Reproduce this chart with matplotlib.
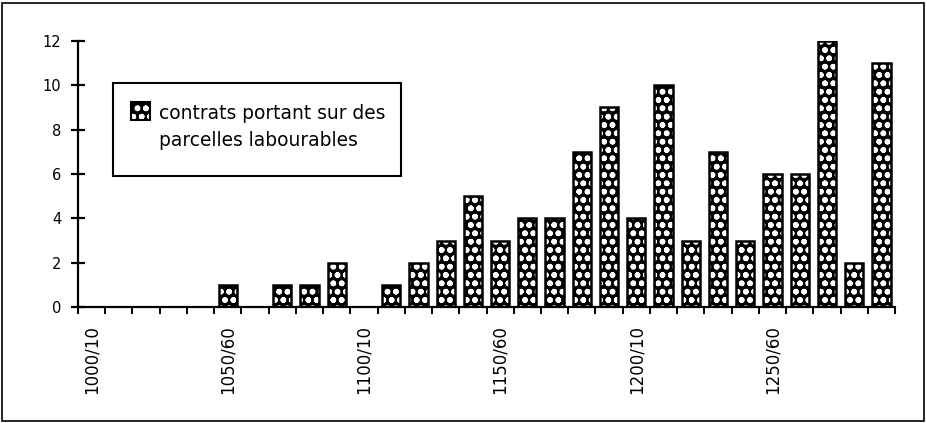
import matplotlib
matplotlib.use("Agg")
import matplotlib.pyplot as plt
from matplotlib.patches import Rectangle
import numpy as np

# ---- data ----
starts = list(range(1000, 1300, 10))
categories = [f"{s}/{str(s + 10)[-2:]}" for s in starts]
values = [0, 0, 0, 0, 0, 1, 0, 1, 1, 2,
          0, 1, 2, 3, 5, 3, 4, 4, 7, 9,
          4, 10, 3, 7, 3, 6, 6, 12, 2, 11]
label_every = 5
yticks = [0, 2, 4, 6, 8, 10, 12]
legend_label = "contrats portant sur des\nparcelles labourables"

plt.rcParams['font.family'] = ['DejaVu Sans']
plt.rcParams['hatch.linewidth'] = 1.7
plt.rcParams['hatch.color'] = 'white'

fig = plt.figure(figsize=(9.27, 4.23), dpi=100)
ax = fig.add_axes([78/927, 1 - 307/423, (895 - 78)/927, (307 - 41)/423])

x = np.arange(len(categories))
ax.bar(x, values, width=0.67, facecolor='black', edgecolor='white', hatch='oo', linewidth=0)
ax.bar(x, values, width=0.67, fill=False, edgecolor='black', linewidth=1.8)

ax.set_xlim(-0.5, len(categories) - 0.5)
ax.set_ylim(0, 12)
ax.spines['top'].set_visible(False)
ax.spines['right'].set_visible(False)
ax.spines['left'].set_linewidth(1.6)
ax.spines['bottom'].set_linewidth(1.6)

ax.set_yticks(yticks)
ax.set_yticklabels([str(v) for v in yticks], fontsize=10.5)
ax.tick_params(axis='y', direction='inout', length=10, width=1.6, pad=7)

ax.set_xticks(np.arange(-0.5, len(categories), 1.0))
ax.set_xticklabels([])
ax.tick_params(axis='x', which='major', direction='out', length=5, width=1.4)
lab_idx = list(range(0, len(categories), label_every))
ax.set_xticks(lab_idx, minor=True)
ax.set_xticklabels([categories[i] for i in lab_idx], minor=True, rotation=90, fontsize=12)
ax.tick_params(axis='x', which='minor', length=0, pad=13)

# legend box
fig.patches.append(Rectangle((113/927, 1 - 176/423), 288/927, 93/423, transform=fig.transFigure,
                             fill=False, edgecolor='black', linewidth=1.5))
fig.patches.append(Rectangle((131/927, 1 - 120/423), 19/927, 18/423, transform=fig.transFigure,
                             facecolor='black', edgecolor='white', hatch='oo', linewidth=0))
fig.patches.append(Rectangle((131/927, 1 - 120/423), 19/927, 18/423, transform=fig.transFigure,
                             fill=False, edgecolor='black', linewidth=1.5))
l1, l2 = legend_label.split("\n")
fig.text(159/927, 1 - 113/423, l1, fontsize=13.4, va='center', ha='left')
fig.text(159/927, 1 - 141/423, l2, fontsize=13.4, va='center', ha='left')

# outer frame
fig.patches.append(Rectangle((2/927, 2/423), 922/927, 418/423, transform=fig.transFigure,
                             fill=False, edgecolor='black', linewidth=1.2))

fig.savefig("out.png", dpi=100)
